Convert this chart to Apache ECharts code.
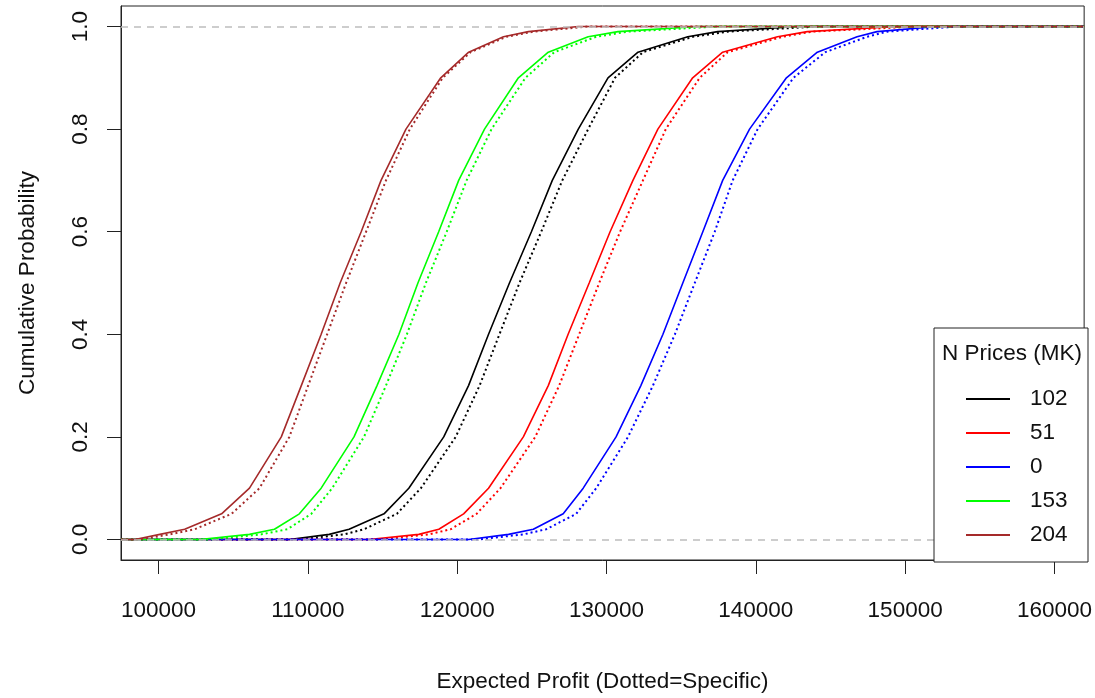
<!DOCTYPE html>
<html>
<head>
<meta charset="utf-8">
<script src="https://cdn.jsdelivr.net/npm/echarts@6/dist/echarts.min.js"></script>
<style>
html,body{margin:0;padding:0;background:#fff;}
#chart{width:1095px;height:698px;}
</style>
</head>
<body>
<div id="chart"></div>
<script>
// Cumulative probability levels at which curve x-values were read
const probLevels = [0, 0.01, 0.02, 0.05, 0.1, 0.2, 0.3, 0.4, 0.5, 0.6, 0.7, 0.8, 0.9, 0.95, 0.98, 0.99, 1];

// Expected profit at each probability level (solid = general, dotted = specific)
const profit102Solid  = [108760, 111430, 112760, 115100, 116760, 119100, 120760, 122100, 123500, 124970, 126370, 128110, 130100, 132110, 135440, 137440, 142780];
const profit102Dotted = [109430, 112430, 113760, 115960, 117570, 119900, 121500, 122830, 124170, 125630, 127040, 128770, 130570, 132440, 135780, 138110, 144120];
const profit51Solid   = [114100, 117430, 118770, 120430, 122100, 124430, 126100, 127430, 128840, 130240, 131770, 133440, 135770, 137780, 141450, 143450, 149450];
const profit51Dotted  = [114760, 118100, 119570, 121300, 122900, 125230, 126830, 128170, 129510, 130910, 132440, 133970, 136240, 138110, 141780, 143780, 150790];
const profit0Solid    = [120770, 123440, 125100, 127100, 128440, 130640, 132300, 133780, 135110, 136450, 137780, 139580, 142050, 144120, 146780, 148120, 152120];
const profit0Dotted   = [121430, 124440, 125970, 127970, 129310, 131440, 133110, 134580, 135910, 137250, 138450, 140120, 142520, 144650, 147450, 148790, 153460];
const profit153Solid  = [102760, 106090, 107760, 109430, 110890, 113090, 114630, 116100, 117370, 118760, 120100, 121830, 124100, 126100, 128770, 130770, 136110];
const profit153Dotted = [103420, 106890, 108630, 110230, 111630, 113760, 115230, 116630, 117900, 119300, 120630, 122300, 124570, 126500, 129310, 131440, 137440];
const profit204Solid  = [98420, 100090, 101750, 104220, 106090, 108220, 109560, 110890, 112160, 113570, 114900, 116570, 118900, 120770, 123100, 124770, 128100];
const profit204Dotted = [98750, 100750, 102420, 104890, 106760, 108760, 110020, 111290, 112560, 113900, 115230, 116830, 119030, 120900, 123300, 125100, 128770];

const groupNames  = ['102', '51', '0', '153', '204'];
const groupColors = ['#000000', '#ff0000', '#0000ff', '#00ff00', '#a52a2a'];
const solidSets   = [profit102Solid, profit51Solid, profit0Solid, profit153Solid, profit204Solid];
const dottedSets  = [profit102Dotted, profit51Dotted, profit0Dotted, profit153Dotted, profit204Dotted];

const xTicks = [100000, 110000, 120000, 130000, 140000, 150000, 160000];
const yTicks = [0, 0.2, 0.4, 0.6, 0.8, 1.0];
const xMin = 97485, xMax = 161988;
const yMin = -0.04, yMax = 1.04;

const FONT = "'Liberation Sans', Arial, sans-serif";
const FS = 22.5;

function curve(xs) {
  const pts = [[xMin, 0]];
  xs.forEach((x, i) => pts.push([x, probLevels[i]]));
  pts.push([xMax, 1]);
  return pts;
}

const series = [];
groupNames.forEach((name, i) => {
  series.push({
    name: name, type: 'line', data: curve(solidSets[i]), showSymbol: false, symbol: 'none',
    lineStyle: {color: groupColors[i], width: 1.6, type: 'solid'}, itemStyle: {color: groupColors[i]},
    animation: false, z: 3
  });
  series.push({
    name: name + ' specific', type: 'line', data: curve(dottedSets[i]), showSymbol: false, symbol: 'none',
    lineStyle: {color: groupColors[i], width: 2, type: [2, 3]}, itemStyle: {color: groupColors[i]},
    animation: false, z: 3
  });
});
series.push({
  name: 'ref', type: 'line', data: [], silent: true, animation: false, z: 2,
  markLine: {
    silent: true, symbol: 'none', label: {show: false},
    lineStyle: {color: '#bdbdbd', type: [7, 6], width: 1.5},
    data: [{yAxis: 0}, {yAxis: 1}]
  }
});

const chart = echarts.init(document.getElementById('chart'), null, {renderer: 'canvas'});
chart.setOption({
  backgroundColor: '#ffffff',
  animation: false,
  textStyle: {fontFamily: FONT},
  grid: {left: 121, right: 7, top: 6, bottom: 136, show: true, borderColor: '#222', borderWidth: 1, backgroundColor: 'transparent'},
  xAxis: {
    type: 'value', min: xMin, max: xMax,
    name: 'Expected Profit (Dotted=Specific)', nameLocation: 'middle', nameGap: 110,
    nameTextStyle: {fontSize: FS, color: '#111', fontFamily: FONT},
    axisLine: {show: true, onZero: false, lineStyle: {color: '#222', width: 1}},
    axisTick: {show: true, length: 14, customValues: xTicks, lineStyle: {color: '#222'}},
    axisLabel: {customValues: xTicks, margin: 39, fontSize: FS, color: '#111', fontFamily: FONT, formatter: v => String(v)},
    splitLine: {show: false}
  },
  yAxis: {
    type: 'value', min: yMin, max: yMax,
    name: 'Cumulative Probability', nameLocation: 'middle', nameGap: 82,
    nameTextStyle: {fontSize: FS, color: '#111', fontFamily: FONT},
    axisLine: {show: true, onZero: false, lineStyle: {color: '#222', width: 1}},
    axisTick: {show: true, length: 14, customValues: yTicks, lineStyle: {color: '#222'}},
    axisLabel: {customValues: yTicks, margin: 29, rotate: 90, fontSize: FS, color: '#111', fontFamily: FONT, formatter: v => v.toFixed(1)},
    splitLine: {show: false}
  },
  title: {
    text: 'N Prices (MK)', left: 942, top: 342, padding: 0, z: 60,
    textStyle: {fontSize: FS, fontWeight: 'normal', color: '#111', fontFamily: FONT}
  },
  legend: {
    data: groupNames, orient: 'vertical', left: 966, top: 387, padding: 0, z: 60,
    icon: 'rect', itemWidth: 44, itemHeight: 2, itemGap: 10, selectedMode: false,
    textStyle: {fontSize: FS, color: '#111', fontFamily: FONT, lineHeight: 24, padding: [0, 0, 0, 15]}
  },
  graphic: [{
    type: 'rect', z: 50, silent: true,
    shape: {x: 934, y: 328, width: 154, height: 234},
    style: {fill: '#ffffff', stroke: '#222', lineWidth: 1}
  }],
  series: series
});
</script>
</body>
</html>
